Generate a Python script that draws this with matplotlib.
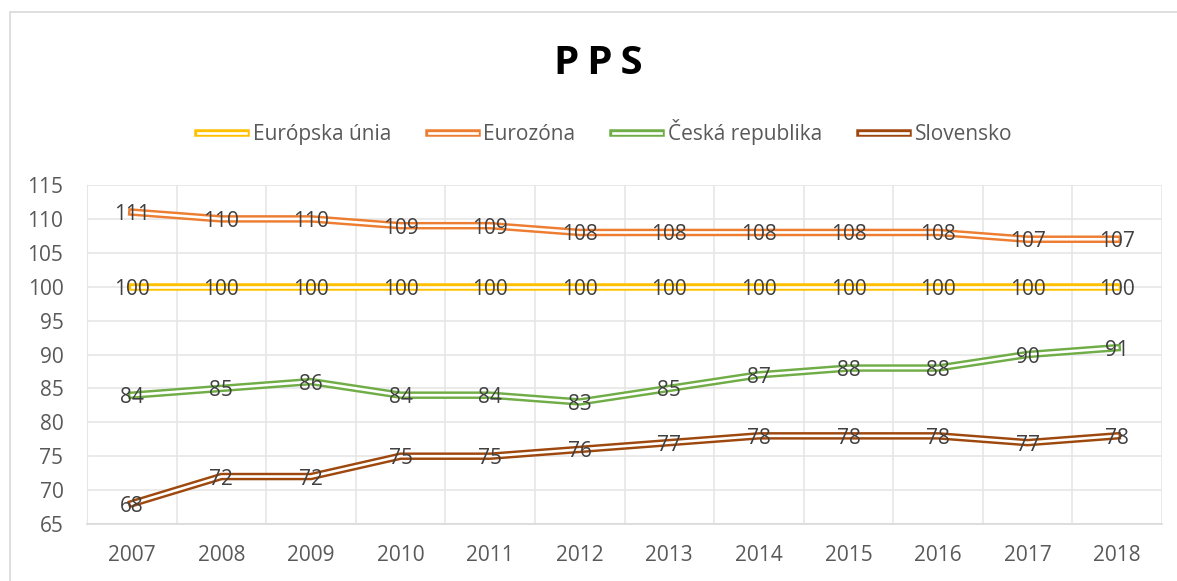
import matplotlib
matplotlib.use("Agg")
import matplotlib.pyplot as plt
import matplotlib.patheffects as pe
from matplotlib.patches import Rectangle
from matplotlib.ticker import MultipleLocator

years = ["2007", "2008", "2009", "2010", "2011", "2012",
         "2013", "2014", "2015", "2016", "2017", "2018"]
eu = [100, 100, 100, 100, 100, 100, 100, 100, 100, 100, 100, 100]
eurozone = [111, 110, 110, 109, 109, 108, 108, 108, 108, 108, 107, 107]
czech = [84, 85, 86, 84, 84, 83, 85, 87, 88, 88, 90, 91]
slovakia = [68, 72, 72, 75, 75, 76, 77, 78, 78, 78, 77, 78]

series = [
    ("Európska únia", eu, "#FFC000"),
    ("Eurozóna", eurozone, "#ED7D31"),
    ("Česká republika", czech, "#70AD47"),
    ("Slovensko", slovakia, "#9E480E"),
]

plt.rcParams["font.family"] = ["Open Sans", "DejaVu Sans"]
TXT = "#595959"
FS = 15

fig = plt.figure(figsize=(11.77, 5.81), dpi=100)
fig.patches.append(Rectangle((10 / 1177, -0.05), 1.1, 1 - 12 / 581 + 0.05,
                             transform=fig.transFigure, fill=False,
                             edgecolor="#D9D9D9", linewidth=1.2))
ax = fig.add_axes([87 / 1177, 57 / 581, 1075 / 1177, 339 / 581])

x = list(range(len(years)))
for name, vals, color in series:
    ax.plot(x, vals, color="white", linewidth=1.9, label=name, zorder=3,
            solid_joinstyle="miter",
            path_effects=[pe.Stroke(linewidth=5.4, foreground=color), pe.Normal()])

# data labels sit on top of every line
for name, vals, color in series:
    for xi, v in zip(x, vals):
        ax.text(xi, v, str(v), ha="center", va="center_baseline", fontsize=FS,
                color="#404040", zorder=5)

ax.set_xlim(-0.5, len(years) - 0.5)
ax.set_ylim(65, 115)
ax.yaxis.set_major_locator(MultipleLocator(5))
ax.set_xticks(x)
ax.set_xticklabels(years)
ax.set_xticks([i - 0.5 for i in range(len(years) + 1)], minor=True)
ax.grid(axis="y", which="major", color="#E6E6E6", linewidth=1.2)
ax.grid(axis="x", which="minor", color="#E6E6E6", linewidth=1.2)
ax.set_axisbelow(True)
ax.tick_params(axis="both", which="both", length=0, labelsize=FS, colors=TXT)
ax.tick_params(axis="x", pad=15)
ax.tick_params(axis="y", pad=17)
for s in ["top", "right"]:
    ax.spines[s].set_visible(False)
ax.spines["left"].set_color("#E6E6E6")
ax.spines["bottom"].set_color("#D9D9D9")
ax.spines["bottom"].set_linewidth(1.2)

fig.text(598 / 1177, 1 - 64 / 581, "P\u2009P\u2009S", ha="center", va="center",
         fontsize=29, fontweight="bold", color="black")

leg = fig.legend(loc="center", bbox_to_anchor=(605 / 1177, 1 - 132 / 581),
                 ncol=4, frameon=False, fontsize=FS, handlelength=2.3,
                 handletextpad=0.33, columnspacing=1.8)
for t in leg.get_texts():
    t.set_color(TXT)

fig.savefig("out.png", dpi=100)
